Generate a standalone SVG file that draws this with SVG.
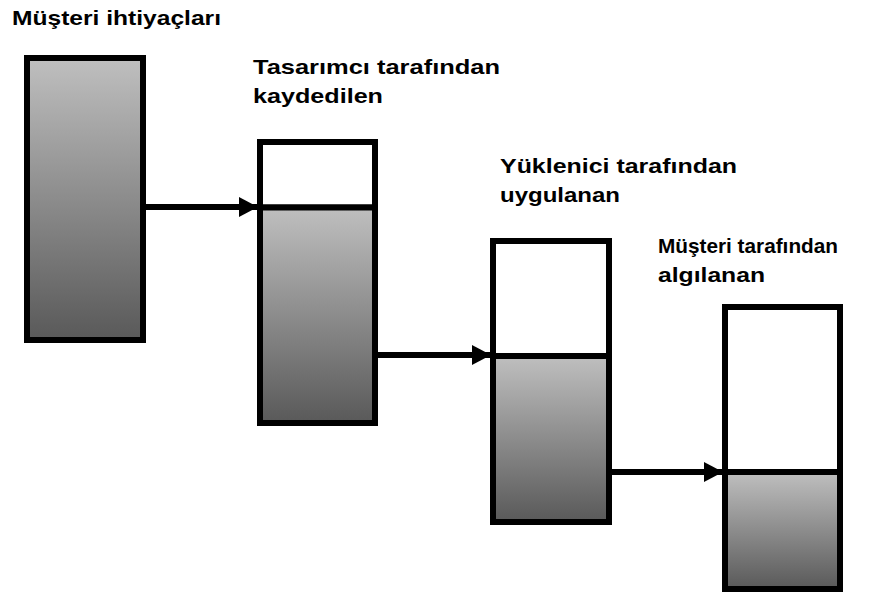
<svg xmlns="http://www.w3.org/2000/svg" width="880" height="593" viewBox="0 0 880 593">
<style>
.lbl{font-family:"Liberation Sans",Arial,sans-serif;font-weight:bold;font-size:21px;fill:#000}
.box{stroke:#000;stroke-width:6}
.top{fill:#fff}
.grad{fill:url(#g)}
.conn{stroke:#000;stroke-width:6;fill:none}
</style>
<defs>
<linearGradient id="g" x1="0" y1="0" x2="0" y2="1">
<stop offset="0" stop-color="#bfbfbf"/>
<stop offset="1" stop-color="#595959"/>
</linearGradient>
<marker id="ah" viewBox="0 0 19 20" refX="19" refY="10" markerWidth="19" markerHeight="20" markerUnits="userSpaceOnUse" orient="auto">
<path d="M0,0 L19,10 L0,20 Z" fill="#000"/>
</marker>
</defs>
<rect width="880" height="593" fill="#fff"/>
<g id="n1">
<rect class="box grad" x="27" y="58" width="116" height="282"/>
<text class="lbl" x="12" y="25" textLength="209" lengthAdjust="spacingAndGlyphs">Müşteri ihtiyaçları</text>
</g>
<g id="n2">
<rect class="box top" x="260" y="142" width="115" height="65.5"/>
<rect class="box grad" x="260" y="207.5" width="115" height="215.5"/>
<text class="lbl" x="253" y="74" textLength="247" lengthAdjust="spacingAndGlyphs">Tasarımcı tarafından</text>
<text class="lbl" x="253" y="103" textLength="130" lengthAdjust="spacingAndGlyphs">kaydedilen</text>
</g>
<g id="n3">
<rect class="box top" x="493" y="241" width="116" height="115"/>
<rect class="box grad" x="493" y="356" width="116" height="166"/>
<text class="lbl" x="500" y="173" textLength="237" lengthAdjust="spacingAndGlyphs">Yüklenici tarafından</text>
<text class="lbl" x="500" y="202" textLength="120" lengthAdjust="spacingAndGlyphs">uygulanan</text>
</g>
<g id="n4">
<rect class="box top" x="725" y="307" width="115" height="165"/>
<rect class="box grad" x="725" y="472" width="115" height="117"/>
<text class="lbl" x="658" y="253" textLength="180" lengthAdjust="spacingAndGlyphs">Müşteri tarafından</text>
<text class="lbl" x="658" y="282" textLength="107" lengthAdjust="spacingAndGlyphs">algılanan</text>
</g>
<g id="connectors">
<line class="conn" x1="146" y1="207" x2="258" y2="207" marker-end="url(#ah)"/>
<line class="conn" x1="378" y1="355" x2="491" y2="355" marker-end="url(#ah)"/>
<line class="conn" x1="612" y1="472" x2="723" y2="472" marker-end="url(#ah)"/>
</g>
</svg>
